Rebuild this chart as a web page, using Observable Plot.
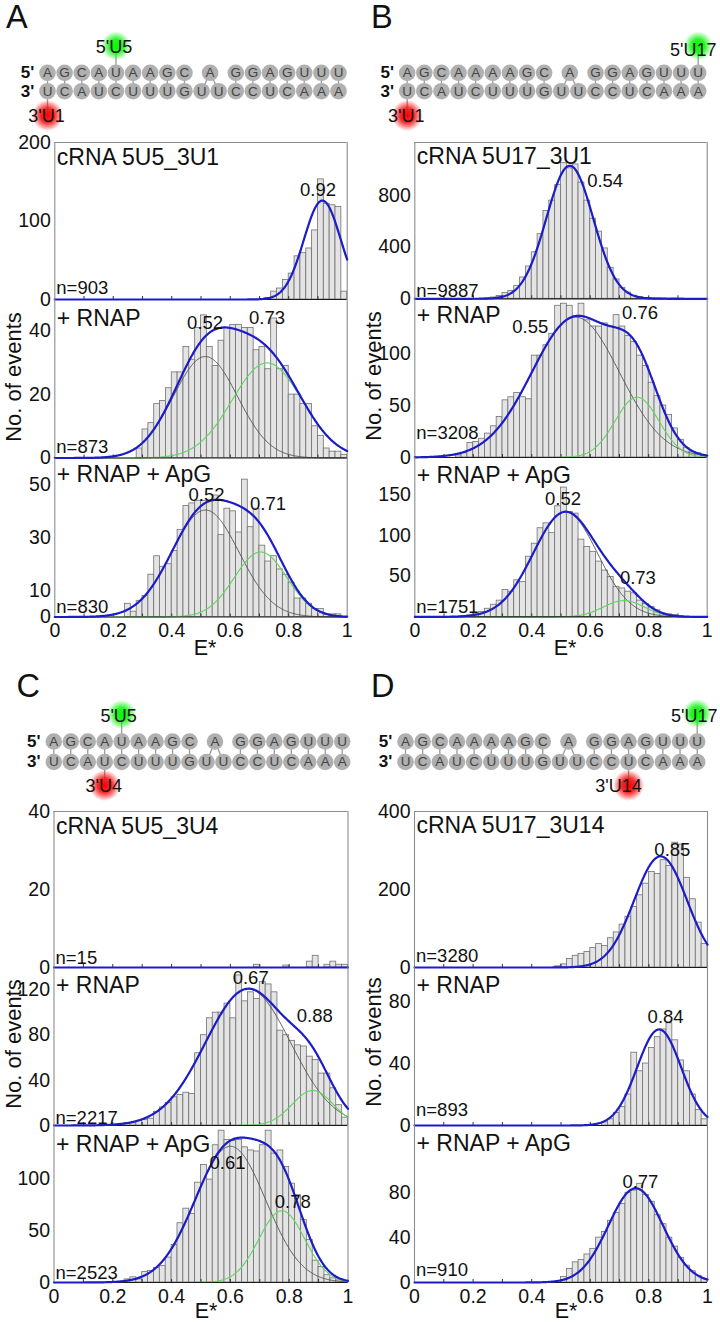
<!DOCTYPE html>
<html>
<head>
<meta charset="utf-8">
<script src="https://cdn.jsdelivr.net/npm/d3@7"></script>
<script src="https://cdn.jsdelivr.net/npm/@observablehq/plot@0.6"></script>
<style>
  body { margin: 0; background: #fff; }
  #fig { position: relative; width: 720px; height: 1322px; overflow: hidden; background: #fff; }
</style>
</head>
<body>
<div id="fig"></div>
<script>
// ====================== DATA ======================
// E* histogram bins: 50 bins of width 0.02 from 0 to 1
const binWidth = 0.02;
const binStarts = d3.range(50).map(i => i * binWidth);
const majorTicks = [0, 0.2, 0.4, 0.6, 0.8, 1];
const minorTicks = [0.1, 0.2, 0.3, 0.4, 0.5, 0.6, 0.7, 0.8, 0.9];

// --- Panel A (5U5_3U1) ---
const countsA1 = [0,0,0,0,0,0,0,0,0,0, 0,0,0,0,0,0,0,0,0,0, 0,0,0,0,0,0,0,0,0,0, 0,0,0,0,0,0,2,10,14,25, 33,55,59,65,88,153,122,120,118,10];
const countsA2 = [0,0,0,0,0,0,0,0,0,0, 0,0,0,0,3,9,11,17,18,22, 27,27,35,31,41,45,35,29,37,41, 42,42,41,41,34,35,28,44,28,29, 20,20,17,17,10,7,3,2,2,1];
const countsA3 = [0,0,0,0,0,0,0,0,0,0, 0,0,5,2,6,8,16,23,19,20, 25,33,42,43,44,44,44,46,31,41, 40,32,52,34,41,27,21,23,18,16, 13,7,7,5,3,3,1,1,1,0];
// --- Panel B (5U17_3U1) ---
const countsB1 = [0,0,0,0,0,0,0,0,0,0, 0,0,4,10,22,45,60,100,165,250, 360,500,680,760,880,1050,1010,1040,900,760, 620,520,390,240,150,85,48,24,12,6, 4,3,4,2,3,2,0,0,0,0];
const countsB2 = [0,0,0,0,0,0,0,2,4,14, 15,18,23,30,39,55,58,62,58,56, 98,98,108,119,146,148,146,136,148,132, 126,126,129,126,137,126,117,111,98,88, 72,59,50,41,28,17,9,5,4,2];
const countsB3 = [0,0,0,0,0,0,0,0,1,2, 4,6,10,15,20,33,31,45,43,74, 90,109,115,103,136,159,129,127,95,86, 80,68,57,49,37,35,31,29,20,16, 12,8,4,3,2,1,0,0,0,0];
// --- Panel C (5U5_3U4) ---
const countsC1 = [0,0,0,0,0,0,0,0,0,0, 0,0,0,0,0,0,0,0,0,0, 0,0,0,0,0,0,0,0,0,0, 0,0,0,0,0.7,0,0,0,0,0.5, 0,0,0,1.5,3,0,0.7,1.5,0.7,0.7];
const countsC2 = [0,0,0,0,0,0,0,0,0,0, 0,1.5,2,2,4,5,6,12,16,20, 25,27,29,28,64,80,95,100,100,108, 95,133,110,118,112,127,125,118,84,80, 75,71,70,61,58,46,46,33,18,7];
const countsC3 = [0,0,0,0,0,0,0,0,0,0, 0,0,3,5,3,10,11,14,16,24, 36,57,71,66,96,113,99,132,146,137, 136,137,130,127,126,132,146,124,127,111, 95,84,60,41,21,15,7,4,2,1];
// --- Panel D (5U17_3U14) ---
const countsD1 = [0,0,0,0,0,0,0,0,0,0, 0,0,0,0,0,0,0,0,0,0, 0,0,0,0,3,8,22,30,35,40, 50,60,55,75,90,110,130,155,185,215, 245,240,275,260,320,315,230,175,115,60];
const countsD2 = [0,0,0,0,0,0,0,0,0,0, 0,0,0,0,0,0,0,0,0,0, 0,0,0,0,0,0,0,0,0,0, 0,0,2,4,8,12,20,47,35,40, 50,57,62,66,55,42,35,20,10,4];
const countsD3 = [0,0,0,0,0,0,0,0,0,0, 0,0,0,0,0,0,0,0,0,0, 0,0,0,0,0,5,12,18,20,25, 30,40,45,55,62,70,80,82,88,78, 72,60,52,40,32,22,15,10,6,3];

// Gaussian fit parameters (first = low-FRET component, second = high-FRET component)
const fitsA1 = [{mu: 0.915, sigma: 0.063, amp: 126}];
const fitsA2 = [{mu: 0.515, sigma: 0.11, amp: 32}, {mu: 0.726, sigma: 0.12, amp: 30}];
const fitsA3 = [{mu: 0.515, sigma: 0.115, amp: 40.5}, {mu: 0.704, sigma: 0.09, amp: 24.6}];
const fitsB1 = [{mu: 0.53, sigma: 0.08, amp: 1030}];
const fitsB2 = [{mu: 0.55, sigma: 0.15, amp: 135}, {mu: 0.76, sigma: 0.075, amp: 58}];
const fitsB3 = [{mu: 0.515, sigma: 0.11, amp: 129}, {mu: 0.715, sigma: 0.07, amp: 20}];
const fitsC1 = [];
const fitsC2 = [{mu: 0.66, sigma: 0.145, amp: 121}, {mu: 0.88, sigma: 0.07, amp: 31}];
const fitsC3 = [{mu: 0.60, sigma: 0.12, amp: 131}, {mu: 0.775, sigma: 0.078, amp: 69}];
const fitsD1 = [{mu: 0.84, sigma: 0.09, amp: 285}];
const fitsD2 = [{mu: 0.835, sigma: 0.075, amp: 62}];
const fitsD3 = [{mu: 0.755, sigma: 0.093, amp: 84}];

// Peak annotations (text, E* position, count position)
const peaksA1 = [{t: "0.92", x: 0.900, y: 139}];
const peaksA2 = [{t: "0.52", x: 0.514, y: 42.5}, {t: "0.73", x: 0.726, y: 44}];
const peaksA3 = [{t: "0.52", x: 0.519, y: 46.2}, {t: "0.71", x: 0.729, y: 42.6}];
const peaksB1 = [{t: "0.54", x: 0.651, y: 909}];
const peaksB2 = [{t: "0.55", x: 0.395, y: 125.6}, {t: "0.76", x: 0.770, y: 138.8}];
const peaksB3 = [{t: "0.52", x: 0.507, y: 144.6}, {t: "0.73", x: 0.763, y: 47.9}];
const peaksC1 = [];
const peaksC2 = [{t: "0.67", x: 0.669, y: 130.7}, {t: "0.88", x: 0.887, y: 96.9}];
const peaksC3 = [{t: "0.61", x: 0.590, y: 114.7}, {t: "0.78", x: 0.812, y: 77.2}];
const peaksD1 = [{t: "0.85", x: 0.880, y: 300}];
const peaksD2 = [{t: "0.84", x: 0.857, y: 69.7}];
const peaksD3 = [{t: "0.77", x: 0.771, y: 89.8}];

// Sub-panel labels, event counts, y domains and y tick labels
const titlesA = ["cRNA 5U5_3U1", "+ RNAP", "+ RNAP + ApG"];
const titlesB = ["cRNA 5U17_3U1", "+ RNAP", "+ RNAP + ApG"];
const titlesC = ["cRNA 5U5_3U4", "+ RNAP", "+ RNAP + ApG"];
const titlesD = ["cRNA 5U17_3U14", "+ RNAP", "+ RNAP + ApG"];
const eventsA = [903, 873, 830];
const eventsB = [9887, 3208, 1751];
const eventsC = [15, 2217, 2523];
const eventsD = [3280, 893, 910];
const yMaxA = [200, 50, 60];
const yMaxB = [1210, 153, 196];
const yMaxC = [40, 140, 151];
const yMaxD = [400, 102, 140];
const yTicksA = [[0, 100, 200], [0, 20, 40], [0, 10, 30, 50]];
const yTicksB = [[0, 400, 800], [0, 50, 100], [50, 100, 150]];
const yTicksC = [[0, 20, 40], [0, 40, 80, 120], [0, 50, 100]];
const yTicksD = [[0, 200, 400], [0, 40, 80], [0, 40, 80]];

// RNA duplex sequences (18 positions; bulged A sits between positions 9 and 10 of the top strand)
const topStrandU5 =  ["A","G","C","A","U","A","A","G","C","","","G","G","A","G","U","U","U"];
const topStrandU17 = ["A","G","C","A","A","A","A","G","C","","","G","G","A","G","U","U","U"];
const bottomStrand = ["U","C","A","U","C","U","U","U","G","U","U","C","C","U","C","A","A","A"];
const bulgeBase = "A";
const bulgeIndex = 9.5;
const bulgePartners = [9, 10];
// Dye positions: donor (green, top strand) and acceptor (red, bottom strand)
const donorA = {index: 4, label: "5'U5"},   acceptorA = {index: 0, label: "3'U1"};
const donorB = {index: 17, label: "5'U17"}, acceptorB = {index: 0, label: "3'U1"};
const donorC = {index: 4, label: "5'U5"},   acceptorC = {index: 3, label: "3'U4"};
const donorD = {index: 17, label: "5'U17"}, acceptorD = {index: 13, label: "3'U14"};

// ====================== LAYOUT ======================
const FONT = '"Liberation Sans", Arial, Helvetica, sans-serif';
const PLOT_STYLE = `font-family: ${FONT}; background: transparent; overflow: visible;`;
const fig = document.getElementById("fig");

fig.innerHTML = `
<svg width="720" height="1322" style="position:absolute;left:0;top:0;overflow:visible" font-family='${FONT}' fill="#111">
  <defs>
    <radialGradient id="glowGreen">
      <stop offset="0" stop-color="#00ff00" stop-opacity="1"/>
      <stop offset="0.45" stop-color="#14f014" stop-opacity="0.9"/>
      <stop offset="1" stop-color="#00ff00" stop-opacity="0"/>
    </radialGradient>
    <radialGradient id="glowRed">
      <stop offset="0" stop-color="#ff0000" stop-opacity="1"/>
      <stop offset="0.45" stop-color="#f21010" stop-opacity="0.9"/>
      <stop offset="1" stop-color="#ff0000" stop-opacity="0"/>
    </radialGradient>
  </defs>
  <g font-size="32.5">
    <text x="6" y="28">A</text>
    <text x="371" y="28">B</text>
    <text x="16.5" y="697">C</text>
    <text x="371" y="697">D</text>
  </g>
  <g font-size="22" text-anchor="middle">
    <text transform="translate(20.5,377) rotate(-90)">No. of events</text>
    <text transform="translate(380.5,376) rotate(-90)">No. of events</text>
    <text transform="translate(20.5,1044) rotate(-90)">No. of events</text>
    <text transform="translate(380.5,1042) rotate(-90)">No. of events</text>
  </g>
  <g font-size="21.5" text-anchor="middle">
    <text x="205" y="655">E*</text>
    <text x="565" y="655">E*</text>
    <text x="206" y="1318">E*</text>
    <text x="566" y="1318">E*</text>
  </g>
</svg>`;

function place(el, left, top) {
  el.style.position = "absolute";
  el.style.left = left + "px";
  el.style.top = top + "px";
  el.style.overflow = "visible";
  el.style.background = "transparent";
  el.style.maxWidth = "none";
  fig.appendChild(el);
}

const gauss = (f, x) => f.amp * Math.exp(-((x - f.mu) ** 2) / (2 * f.sigma ** 2));
const eGrid = d3.range(0, 1.00001, 0.0025);

const panels = [
  {left: 0, ml: 54.3, mr: 13.3, bounds: [142, 299, 457.5, 616],
   counts: [countsA1, countsA2, countsA3], fits: [fitsA1, fitsA2, fitsA3], peaks: [peaksA1, peaksA2, peaksA3],
   titles: titlesA, n: eventsA, ymax: yMaxA, yticks: yTicksA, titleDy: [6.3, 10, 7.2], nLift: [6, 4.6, 4]},
  {left: 360, ml: 54.3, mr: 13.3, bounds: [142, 298.3, 457.3, 616.7],
   counts: [countsB1, countsB2, countsB3], fits: [fitsB1, fitsB2, fitsB3], peaks: [peaksB1, peaksB2, peaksB3],
   titles: titlesB, n: eventsB, ymax: yMaxB, yticks: yTicksB, titleDy: [4.7, 8.4, 9.4], nLift: [1.6, 19, 3.7]},
  {left: 0, ml: 53.5, mr: 12.5, bounds: [811, 967, 1125, 1282],
   counts: [countsC1, countsC2, countsC3], fits: [fitsC1, fitsC2, fitsC3], peaks: [peaksC1, peaksC2, peaksC3],
   titles: titlesC, n: eventsC, ymax: yMaxC, yticks: yTicksC, titleDy: [5.7, 9, 10], nLift: [3.4, 1.7, 4]},
  {left: 360, ml: 54, mr: 13, bounds: [811, 967, 1125, 1282],
   counts: [countsD1, countsD2, countsD3], fits: [fitsD1, fitsD2, fitsD3], peaks: [peaksD1, peaksD2, peaksD3],
   titles: titlesD, n: eventsD, ymax: yMaxD, yticks: yTicksD, titleDy: [5.5, 9, 9], nLift: [6, 10, 7]}
];

function histPlot(p, k) {
  const top = p.bounds[k], h = p.bounds[k + 1] - p.bounds[k];
  const isTop = k === 0, isBottom = k === 2;
  const counts = p.counts[k], fits = p.fits[k];
  const bars = binStarts.map((x1, i) => ({x1, x2: x1 + binWidth, y: counts[i]})).filter(d => d.y > 0);
  const total = eGrid.map(x => ({x, y: d3.sum(fits, f => gauss(f, x))}));
  const comps = fits.length > 1 ? fits.map(f => eGrid.map(x => ({x, y: gauss(f, x)}))) : [];
  const mb = isBottom ? 34 : 0;
  const el = Plot.plot({
    width: 360, height: h + mb,
    marginLeft: p.ml, marginRight: p.mr, marginTop: 0, marginBottom: mb,
    style: PLOT_STYLE,
    x: {domain: [0, 1]},
    y: {domain: [0, p.ymax[k]]},
    marks: [
      Plot.rectY(bars, {x1: "x1", x2: "x2", y: "y", fill: "#e4e4e4", stroke: "#707070", strokeWidth: 0.8}),
      Plot.ruleX([0, 1], {stroke: "#8c8c8c", strokeWidth: 1.1}),
      isTop ? Plot.ruleY([p.ymax[k]], {stroke: "#8c8c8c", strokeWidth: 1.1}) : null,
      Plot.axisX({ticks: minorTicks, anchor: "bottom", tickSize: 3, dy: -3, fill: "none", stroke: "#333", label: null}),
      Plot.axisY({ticks: p.yticks[k], anchor: "left", tickSize: 0, tickPadding: 4, fontSize: 19.5, fill: "#111", label: null}),
      isBottom ? Plot.axisX({ticks: majorTicks, anchor: "bottom", tickSize: 0, tickPadding: 6.5, fontSize: 19.5, fill: "#111", tickFormat: d3.format("~g"), label: null}) : null,
      ...comps.map((c, j) => Plot.line(c, {x: "x", y: "y", stroke: j === 0 ? "#4d4d4d" : "#62d462", strokeWidth: j === 0 ? 0.9 : 1.1})),
      Plot.ruleY([0], {stroke: "#1a1a1a", strokeWidth: 1.2}),
      Plot.line(total, {x: "x", y: "y", stroke: "#1c1cc8", strokeWidth: 2.2}),
      Plot.text([p.titles[k]], {frameAnchor: "top-left", text: d => d, dx: 2, dy: p.titleDy[k], lineAnchor: "top", textAnchor: "start", fontSize: 23, fill: "#111"}),
      Plot.text(["n=" + p.n[k]], {frameAnchor: "bottom-left", text: d => d, dx: 1.5, dy: -p.nLift[k], lineAnchor: "bottom", textAnchor: "start", fontSize: 18.5, fill: "#111"}),
      Plot.text(p.peaks[k], {x: "x", y: "y", text: "t", fontSize: 18.5, lineAnchor: "middle", fill: "#111"})
    ]
  });
  place(el, p.left, top);
}

const rnaPanels = [
  {left: 0, top: 0, xr: [47, 338], yr: [72.3, 90.7], strand: topStrandU5, donor: donorA, acceptor: acceptorA,
   gDy: -27, rDy: 24.3, gLx: -2, gLy: -25.6, rLx: -1, rLy: 25.3},
  {left: 360, top: 0, xr: [46.7, 337.7], yr: [72.3, 90.7], strand: topStrandU17, donor: donorB, acceptor: acceptorB,
   gDy: -27, rDy: 24.3, gLx: -5, gLy: -22.5, rLx: -1, rLy: 25.3},
  {left: 0, top: 640, xr: [53.3, 341.7], yr: [101, 121.5], strand: topStrandU5, donor: donorC, acceptor: acceptorC,
   gDy: -27, rDy: 23.5, gLx: -3, gLy: -25, rLx: -1, rLy: 24.5},
  {left: 360, top: 640, xr: [45, 336.7], yr: [101, 121.5], strand: topStrandU17, donor: donorD, acceptor: acceptorD,
   gDy: -28, rDy: 23.5, gLx: -3, gLy: -25, rLx: -10, rLy: 24.5}
];

function rnaPlot(c) {
  const topNts = c.strand.map((b, i) => ({i, b})).filter(d => d.b !== "");
  topNts.push({i: bulgeIndex, b: bulgeBase});
  const botNts = bottomStrand.map((b, i) => ({i, b}));
  const pairs = c.strand.map((b, i) => ({i1: i, i2: i, b})).filter(d => d.b !== "");
  const links = pairs.concat(bulgePartners.map(j => ({i1: bulgeIndex, i2: j})));
  const TOP = () => 0, BOT = () => 1;
  const el = Plot.plot({
    width: 360, height: 170, margin: 0,
    style: PLOT_STYLE,
    x: {domain: [0, 17], range: c.xr, axis: null},
    y: {domain: [0, 1], range: c.yr, axis: null},
    marks: [
      Plot.link(links, {x1: "i1", x2: "i2", y1: TOP, y2: BOT, stroke: "#9a9a9a", strokeWidth: 1.3}),
      Plot.link([c.donor], {x1: "index", x2: "index", y1: TOP, y2: () => -1.1, stroke: "#9a9a9a", strokeWidth: 1.3}),
      Plot.link([c.acceptor], {x1: "index", x2: "index", y1: BOT, y2: () => 2.1, stroke: "#9a9a9a", strokeWidth: 1.3}),
      Plot.dot([c.donor], {x: "index", y: TOP, dy: c.gDy, r: 14.5, fill: "url(#glowGreen)"}),
      Plot.dot([c.acceptor], {x: "index", y: BOT, dy: c.rDy, r: 15.5, fill: "url(#glowRed)"}),
      Plot.dot(topNts, {x: "i", y: TOP, r: 8.3, fill: "#b0b0b0"}),
      Plot.dot(botNts, {x: "i", y: BOT, r: 8.3, fill: "#b0b0b0"}),
      Plot.text(topNts, {x: "i", y: TOP, text: "b", fontSize: 13.5, fill: "#444"}),
      Plot.text(botNts, {x: "i", y: BOT, text: "b", fontSize: 13.5, fill: "#444"}),
      Plot.text(["5'"], {x: () => 0, y: TOP, text: d => d, dx: -20, fontSize: 17, fontWeight: "bold", fill: "#111"}),
      Plot.text(["3'"], {x: () => 0, y: BOT, text: d => d, dx: -20, fontSize: 17, fontWeight: "bold", fill: "#111"}),
      Plot.text([c.donor], {x: "index", y: TOP, text: "label", dx: c.gLx, dy: c.gLy, fontSize: 18, fill: "#111"}),
      Plot.text([c.acceptor], {x: "index", y: BOT, text: "label", dx: c.rLx, dy: c.rLy, fontSize: 18, fill: "#111"})
    ]
  });
  place(el, c.left, c.top);
}

rnaPanels.forEach(rnaPlot);
panels.forEach(p => [0, 1, 2].forEach(k => histPlot(p, k)));
</script>
</body>
</html>
